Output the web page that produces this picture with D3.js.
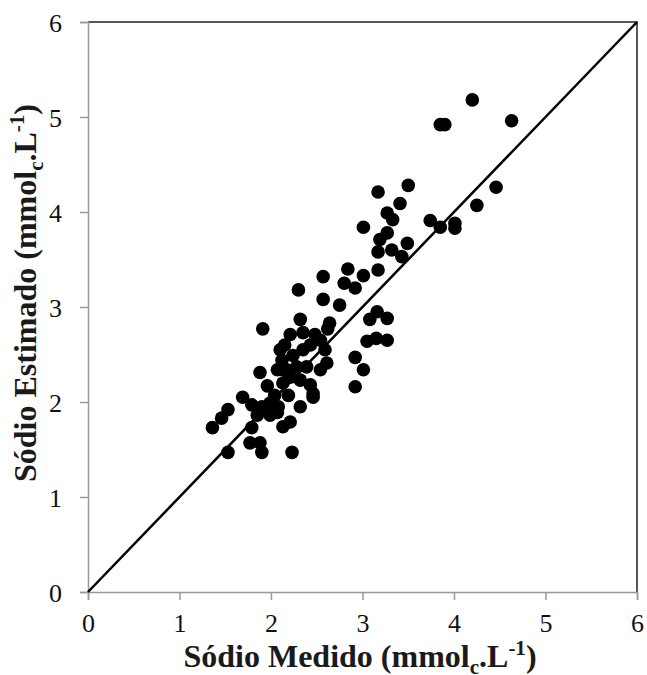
<!DOCTYPE html>
<html>
<head>
<meta charset="utf-8">
<script src="https://cdn.jsdelivr.net/npm/d3@7"></script>
<style>
  body { margin: 0; background: #fff; }
</style>
</head>
<body>
<script>
// Sódio medido vs estimado (mmolc/L)
const medido = [4.20, 3.85, 3.90, 4.63, 3.50, 3.17, 4.46, 4.25, 3.41, 3.27,
  3.33, 3.01, 3.74, 3.85, 4.01, 4.01, 3.27, 3.19, 3.49, 3.17,
  3.32, 3.43, 2.84, 3.17, 2.57, 3.01, 2.80, 2.92, 2.30, 2.57,
  2.75, 3.16, 3.08, 3.27, 2.32, 1.91, 2.64, 2.62, 2.21, 2.35,
  2.48, 3.05, 3.15, 3.27, 2.54, 2.35, 2.59, 2.92, 3.01, 2.61,
  2.92, 2.43, 2.46, 2.28, 2.21, 2.10, 2.12, 2.13, 2.13, 2.17,
  2.07, 2.39, 1.88, 1.96, 1.69, 1.53, 1.46, 1.36, 1.79, 1.90,
  1.99, 2.08, 1.85, 1.99, 2.07, 1.79, 2.13, 2.21, 2.32, 1.77,
  1.88, 1.90, 1.53, 2.23, 2.46, 2.15, 2.24, 2.19, 2.04, 2.32,
  2.54, 2.43];
const estimado = [5.18, 4.92, 4.92, 4.96, 4.28, 4.21, 4.26, 4.07, 4.09, 3.99,
  3.92, 3.84, 3.91, 3.84, 3.88, 3.83, 3.78, 3.71, 3.67, 3.58,
  3.60, 3.53, 3.40, 3.39, 3.32, 3.33, 3.25, 3.20, 3.18, 3.08,
  3.02, 2.95, 2.87, 2.88, 2.87, 2.77, 2.83, 2.77, 2.71, 2.73,
  2.71, 2.64, 2.67, 2.65, 2.65, 2.55, 2.55, 2.47, 2.34, 2.41,
  2.16, 2.18, 2.09, 2.37, 2.26, 2.55, 2.44, 2.34, 2.20, 2.34,
  2.34, 2.37, 2.31, 2.17, 2.05, 1.92, 1.83, 1.73, 1.97, 1.95,
  1.99, 1.95, 1.86, 1.86, 1.89, 1.73, 1.74, 1.79, 1.95, 1.57,
  1.57, 1.47, 1.47, 1.47, 2.05, 2.60, 2.49, 2.07, 2.07, 2.23,
  2.34, 2.60];
const ticks = [0, 1, 2, 3, 4, 5, 6];

const width = 647, height = 675;
const margin = {top: 22, right: 10, bottom: 83, left: 88};

const svg = d3.select("body").append("svg")
    .attr("width", width)
    .attr("height", height)
    .attr("font-family", "'Liberation Serif', 'Times New Roman', serif");

const x = d3.scaleLinear().domain([0, 6]).range([margin.left, width - margin.right]);
const y = d3.scaleLinear().domain([0, 6]).range([height - margin.bottom, margin.top]);

// frame (top/right dark)
svg.append("path")
    .attr("fill", "none")
    .attr("stroke", "#222")
    .attr("stroke-width", 1.5)
    .attr("d", `M${x(0)},${y(6)}H${x(6)}V${y(0)}`);

const xAxis = svg.append("g")
    .attr("transform", `translate(0,${y(0)})`)
    .call(d3.axisBottom(x).tickValues(ticks).tickSize(8).tickPadding(14).tickFormat(d3.format("d")));

const yAxis = svg.append("g")
    .attr("transform", `translate(${x(0)},0)`)
    .call(d3.axisLeft(y).tickValues(ticks).tickSize(8).tickPadding(18).tickFormat(d3.format("d")));

[xAxis, yAxis].forEach(g => {
  g.select(".domain").attr("stroke", "#999").attr("stroke-width", 1.5);
  g.selectAll(".tick line").attr("stroke", "#999").attr("stroke-width", 1.5);
  g.selectAll(".tick text")
      .attr("font-size", 26)
      .attr("font-family", "'Liberation Serif', serif")
      .attr("fill", "#111");
});
yAxis.selectAll(".tick text").attr("dy", "0.35em");

// 1:1 line
svg.append("line")
    .attr("x1", x(0)).attr("y1", y(0))
    .attr("x2", x(6)).attr("y2", y(6))
    .attr("stroke", "#000")
    .attr("stroke-width", 2.5);

svg.append("g")
    .selectAll("circle")
    .data(medido.map((d, i) => [d, estimado[i]]))
    .join("circle")
    .attr("cx", d => x(d[0]))
    .attr("cy", d => y(d[1]))
    .attr("r", 6.8)
    .attr("fill", "#000");

function axisLabel(t, name) {
  t.attr("font-weight", "bold")
   .attr("font-size", 32)
   .attr("fill", "#1a1a1a")
   .attr("text-anchor", "middle");
  t.append("tspan").text(name + " (mmol");
  t.append("tspan").attr("font-size", 21).attr("dy", 7).text("c");
  t.append("tspan").attr("dy", -7).text(".L");
  t.append("tspan").attr("font-size", 21).attr("dy", -12).text("-1");
  t.append("tspan").attr("dy", 12).text(")");
}

svg.append("text")
    .attr("x", 360)
    .attr("y", 667)
    .call(axisLabel, "Sódio Medido");

svg.append("text")
    .attr("transform", "translate(36,293) rotate(-90)")
    .call(axisLabel, "Sódio Estimado");
</script>
</body>
</html>
